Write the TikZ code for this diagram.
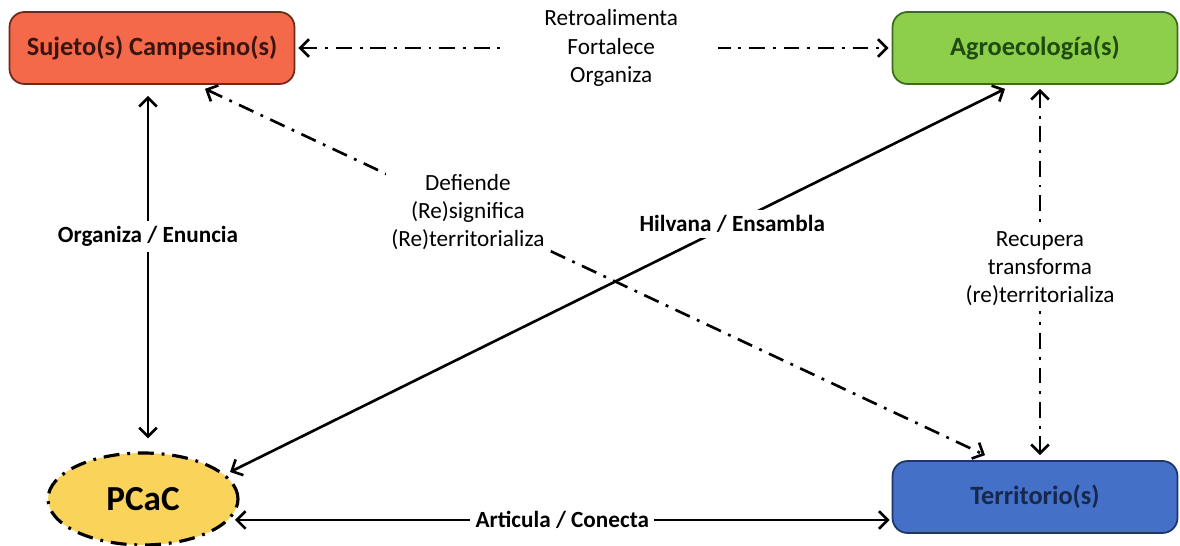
\documentclass[tikz,border=0pt]{standalone}
\usepackage{fontspec}
\setmainfont{Carlito}
\usetikzlibrary{arrows.meta, calc, shapes.geometric, positioning}

\definecolor{sujetofill}{HTML}{F4694A}
\definecolor{sujetoline}{HTML}{6B2A1C}
\definecolor{sujetotext}{HTML}{3A1510}
\definecolor{agrofill}{HTML}{8DCF4B}
\definecolor{agroline}{HTML}{3D6A1E}
\definecolor{agrotext}{HTML}{1F4A10}
\definecolor{terrfill}{HTML}{4470C8}
\definecolor{terrline}{HTML}{1E3566}
\definecolor{terrtext}{HTML}{17284F}
\definecolor{pcacfill}{HTML}{FAD35A}

\begin{document}
\begin{tikzpicture}[x=0.02cm, y=-0.02cm,
        font=\fontsize{13.2}{16}\selectfont,
        box/.style={draw, rounded corners=0.3cm, line width=1pt,
                    minimum width=5.7cm, minimum height=1.44cm,
                    font=\fontsize{15}{18}\selectfont\bfseries},
        link/.style={line width=1.5pt,
                     {Straight Barb[length=5pt,width=10pt]}-{Straight Barb[length=5pt,width=10pt]}},
        dashdot/.style={dash pattern=on 9pt off 4.5pt on 1.6pt off 4.5pt},
        lbl/.style={fill=white, align=center, inner sep=3pt}]

        \useasboundingbox (0, 0) rectangle (1180, 546);

        % Draw the states
        \node[box, fill=sujetofill, draw=sujetoline, text=sujetotext] at (152, 48)  (sujeto) {Sujeto(s) Campesino(s)};
        \node[box, fill=agrofill, draw=agroline, text=agrotext]       at (1035, 48) (agro)   {Agroecología(s)};
        \node[box, fill=terrfill, draw=terrline, text=terrtext]       at (1035, 497) (terr)  {Territorio(s)};
        \node[ellipse, draw, fill=pcacfill, line width=1.8pt, dashdot,
              minimum width=3.8cm, minimum height=1.84cm,
              font=\fontsize{20}{24}\selectfont\bfseries] at (143, 499) (pcac) {PCaC};

        % Connect the states with arrows
        \draw[link, dashdot] ($(sujeto.east)+(3,0)$) -- node[lbl, pos=0.53, inner xsep=0.8cm] {Retroalimenta\\Fortalece\\Organiza} ($(agro.west)+(-3,0)$);
        \draw[link] ($(sujeto.south)+(-4,11)$) -- node[lbl, pos=0.41] {\bfseries Organiza / Enuncia} ($(pcac.north)+(5,-13)$);
        \draw[link, dashdot] ($(sujeto.south)+(53,4)$) -- node[lbl, pos=0.337] {Defiende\\(Re)significa\\(Re)territorializa} ($(terr.north)+(-50,-5)$);
        \draw[link] ($(pcac.center)+(87,-27)$) -- node[lbl, pos=0.648] {\bfseries Hilvana / Ensambla} ($(agro.south)+(-30,4)$);
        \draw[link, dashdot] ($(agro.south)+(5,4)$) -- node[lbl, pos=0.49] {Recupera\\transforma\\(re)territorializa} ($(terr.north)+(5,-5)$);
        \draw[link] ($(pcac.center)+(92,21)$) -- node[lbl, pos=0.5] {\bfseries Articula / Conecta} ($(terr.west)+(-2,23)$);
\end{tikzpicture}
\end{document}
